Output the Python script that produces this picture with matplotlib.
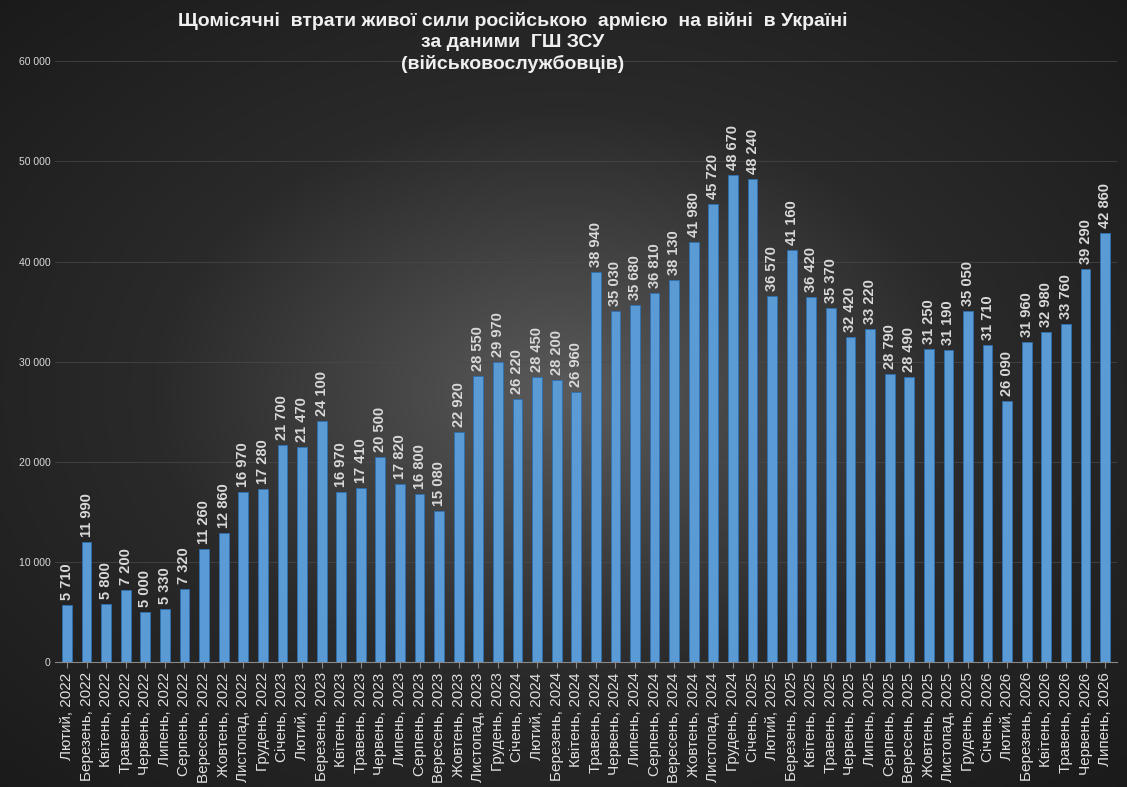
import numpy as np
import matplotlib
matplotlib.use("Agg")
import matplotlib.pyplot as plt
from matplotlib.colors import LinearSegmentedColormap

plt.rcParams["font.family"] = ["Liberation Sans", "DejaVu Sans"]

months = ["Лютий", "Березень", "Квітень", "Травень", "Червень", "Липень", "Серпень",
          "Вересень", "Жовтень", "Листопад", "Грудень", "Січень"]
years_first = 2022
values = [5710, 11990, 5800, 7200, 5000, 5330, 7320, 11260, 12860, 16970, 17280,
          21700, 21470, 24100, 16970, 17410, 20500, 17820, 16800, 15080, 22920, 28550, 29970,
          26220, 28450, 28200, 26960, 38940, 35030, 35680, 36810, 38130, 41980, 45720, 48670,
          48240, 36570, 41160, 36420, 35370, 32420, 33220, 28790, 28490, 31250, 31190, 35050,
          31710, 26090, 31960, 32980, 33760, 39290, 42860]

labels = []
for i in range(len(values)):
    m = months[i % 12]
    y = years_first + (i + 1) // 12
    labels.append(f"{m}, {y}")

fig = plt.figure(figsize=(11.27, 7.87), dpi=100)

# radial gradient background
bg = fig.add_axes([0, 0, 1, 1])
yy, xx = np.mgrid[-1:1:400j, -1:1:600j]
r = np.sqrt(xx ** 2 + yy ** 2)
cmap_bg = LinearSegmentedColormap.from_list("bg", ["#5a5a5a", "#2a2a2a", "#1a1a1a"])
bg.imshow(r, cmap=cmap_bg, aspect="auto", extent=[0, 1, 0, 1], vmin=0, vmax=1.45)
bg.axis("off")

ax = fig.add_axes([0.049, 0.159, 0.942, 0.763])
ax.set_facecolor("none")
x = np.arange(len(values))
ax.bar(x, values, width=0.5, color="#5b9bd5", edgecolor="#2e6fae", linewidth=0.6, zorder=3)

for xi, v in zip(x, values):
    ax.text(xi, v + 500, f"{v:,}".replace(",", " "), rotation=90, ha="center", va="bottom",
            color="#d9d9d9", fontsize=10.5, fontweight="bold", zorder=4)

ax.set_ylim(0, 60000)
ax.set_xlim(-0.6, len(values) - 0.4)
ax.set_yticks(range(0, 60001, 10000))
ax.set_yticklabels([f"{t:,}".replace(",", " ") for t in range(0, 60001, 10000)],
                   color="#d9d9d9", fontsize=7.5)
ax.set_xticks(x)
ax.set_xticklabels(labels, rotation=90, color="#e0e0e0", fontsize=11)
ax.yaxis.grid(True, color="#4a4a4a", linewidth=0.5, zorder=0)
ax.tick_params(length=0, axis="y")
ax.tick_params(axis="x", length=4, color="#888888")
for s in ["top", "right", "left"]:
    ax.spines[s].set_visible(False)
ax.spines["bottom"].set_color("#888888")

fig.text(0.455, 0.946, "Щомісячні  втрати живої сили російською  армією  на війні  в Україні\n"
         "за даними  ГШ ЗСУ\n(військовослужбовців)", ha="center", va="center",
         color="#f0f0f0", fontsize=14, fontweight="bold", linespacing=1.3)

plt.savefig("out.png", dpi=100)
plt.close()
